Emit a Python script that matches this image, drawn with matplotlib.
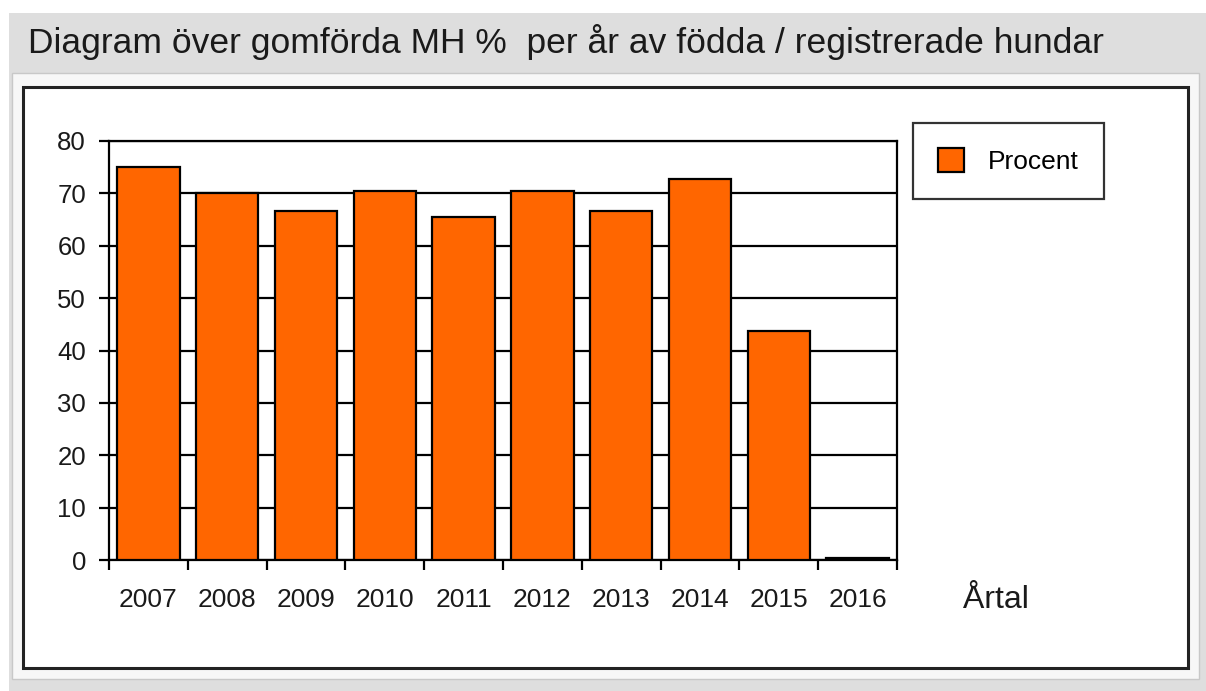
import matplotlib.pyplot as plt
from matplotlib.patches import Rectangle

# data
years = ["2007", "2008", "2009", "2010", "2011", "2012", "2013", "2014", "2015", "2016"]
procent = [75.0, 70.0, 66.7, 70.5, 65.5, 70.5, 66.7, 72.7, 43.8, 0.4]
y_ticks = [0, 10, 20, 30, 40, 50, 60, 70, 80]

title = "Diagram över gomförda MH %  per år av födda / registrerade hundar"
x_title = "Årtal"
series_name = "Procent"

W, H = 1206, 691
plt.rcParams['font.family'] = ['Liberation Sans', 'DejaVu Sans']

fig = plt.figure(figsize=(W / 100, H / 100), dpi=100, facecolor="white")


def fx(px):
    return px / W


def fy(py):
    return 1 - py / H


# grey window background, light frame and black bordered panel
fig.patches.append(Rectangle((fx(9), 0), fx(W - 9), fy(13), transform=fig.transFigure,
                             facecolor="#dedede", edgecolor="none", zorder=-3))
fig.patches.append(Rectangle((fx(12), fy(679)), fx(1187), (679 - 73) / H, transform=fig.transFigure,
                             facecolor="#f7f7f7", edgecolor="#c8c8c8", linewidth=1, zorder=-2))
fig.patches.append(Rectangle((fx(23), fy(668)), fx(1165), (668 - 87) / H, transform=fig.transFigure,
                             facecolor="white", edgecolor="#222222", linewidth=2.2, zorder=-1))

fig.text(fx(28), fy(53), title, fontsize=25.5, color="#1a1a1a", va="baseline", ha="left")

ax = fig.add_axes([fx(109), fy(560), fx(897 - 109), (560 - 141) / H])
ax.set_zorder(2)
ax.set_facecolor("white")

x = list(range(len(years)))
ax.bar(x, procent, width=0.79, color="#ff6600", edgecolor="black", linewidth=1.6,
       label=series_name, zorder=3)

ax.set_xlim(-0.5, len(years) - 0.5)
ax.set_ylim(0, 80)
ax.set_yticks(y_ticks)
ax.set_yticklabels([str(v) for v in y_ticks])
ax.yaxis.grid(True, color="black", linewidth=1.6)
ax.set_axisbelow(True)

ax.set_xticks(x)
ax.set_xticklabels(years)
ax.set_xticks([i - 0.5 for i in range(len(years) + 1)], minor=True)
ax.tick_params(axis="x", which="major", length=0, pad=20, labelsize=19, labelcolor="#1a1a1a")
ax.tick_params(axis="x", which="minor", length=7.5, width=1.6, direction="out", color="black")
ax.tick_params(axis="y", length=7.5, width=1.6, direction="out", pad=9, labelsize=18.5,
               labelcolor="#1a1a1a")

for s in ax.spines.values():
    s.set_color("black")
    s.set_linewidth(1.6)

fig.text(fx(963), fy(608), x_title, fontsize=23, color="#1a1a1a", va="baseline", ha="left")

leg = ax.legend(loc="upper left", bbox_to_anchor=(fx(913), fy(123)), bbox_transform=fig.transFigure,
                fontsize=19, frameon=True, fancybox=False, shadow=False, borderaxespad=0,
                borderpad=0.95, handlelength=1.0, handleheight=1.0, handletextpad=0.9)
leg.get_frame().set_edgecolor("black")
leg.get_frame().set_linewidth(1.6)

fig.savefig("out.png", dpi=100, facecolor=fig.get_facecolor())
